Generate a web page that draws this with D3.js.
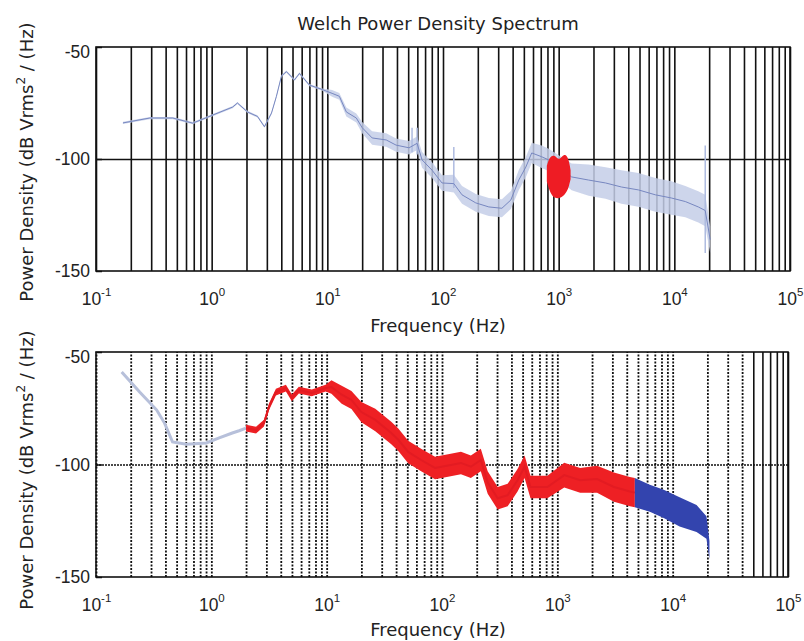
<!DOCTYPE html>
<html>
<head>
	<meta charset="utf-8">
	<title>Welch Power Density Spectrum</title>
	<script src="https://d3js.org/d3.v7.min.js"></script>
	<style>
	body {
		margin: 0;
		background: #fff;
	}
	.chartContainer svg {
		display: block;
		font-family: "DejaVu Sans", sans-serif;
	}
	.ticklabel, .axislabel, .title {
		fill: #222;
	}
	.domain {
		display: none;
	}
	</style>
</head>
<body>
<div class="chartContainer"></div>
<script>
// top panel: welch estimate (mean trace + spread band)
var topFreq = [0.171, 0.292, 0.461, 0.686, 1.02, 1.52, 1.67, 2.04, 2.49, 2.86, 3.29, 3.63, 4.01, 4.43, 5.2, 5.74, 7.0, 9.06,
	11.0, 12.7, 14.6, 17.8, 20.0, 24.4, 32.3, 39.3, 50.9, 59.7, 65.9, 80.4, 98, 124, 146, 192, 249, 323, 386, 452, 520, 585,
	713, 820, 1294, 1815, 2543, 3491, 4898, 6861, 9418, 12450, 16110, 18500, 20420];
var topDb = [-83.9, -81.7, -81.7, -84, -80.4, -76.8, -75, -79, -81, -85.6, -79.5, -72, -63, -61, -64.7, -61.8, -67, -69,
	-70.7, -72, -79, -81.7, -86, -90.6, -91.5, -93.8, -95, -93, -100.4, -105, -110.7, -111, -116, -119.6, -121.4, -122, -118.3, -109.4, -103.6, -97.3,
	-99, -100.4, -108, -109.4, -110.7, -112.5, -113.8, -116, -117.4, -119, -121.4, -123, -136];
var topSpread = [0.5, 0.5, 0.5, 0.5, 0.5, 0.5, 0.5, 0.5, 0.5, 0.5, 0.5, 0.5, 0.5, 0.5, 0.5, 0.5, 0.5, 0.5,
	1.5, 1.5, 2, 2, 2.5, 3, 3, 3, 3, 3, 3.5, 3.5, 3.5, 4, 4, 4, 4, 4, 4, 4.5, 4.5, 4.5,
	5, 5, 6, 7, 7, 7.5, 7.5, 7.5, 7.5, 7, 7, 7, 6];

// isolated spikes in the top trace
var spikeFreq = [54, 59.7, 124, 18500];
var spikeHigh = [-86, -86, -94.6, -94];
var spikeLow = [-97, -98, -113, -142];

// red bins around 1 kHz (top panel)
var blobFreq = [790, 830, 880, 940, 1000, 1060, 1120, 1180, 1230, 1268];
var blobHigh = [-103, -99.5, -98.5, -98.5, -100.5, -99, -98, -98.5, -101, -105];
var blobLow = [-110, -114, -116.5, -117.5, -117.5, -117, -116, -114.5, -112, -109];

// bottom panel: gray below 2 Hz, red up to 4.7 kHz, blue above
var bottomFreq = [0.167, 0.239, 0.336, 0.393, 0.461, 0.608, 0.905, 1.17, 1.52, 1.74,
	2.0, 2.44, 2.86, 3.16, 3.63, 4.43, 4.99, 5.74, 7.43, 9.8,
	11.0, 13.5, 16.4, 20.0, 26.4, 36.3, 41.8, 50.9, 65.9, 87, 113, 146, 178, 217, 249, 304, 371, 452, 520, 585,
	820, 1148, 1578, 2213, 3097, 4256, 4700, 6339, 8360, 11480, 16110, 19630, 20840];
var bottomDb = [-58.9, -67.8, -75.8, -81.6, -90, -91, -90.4, -88.2, -86, -85,
	-83.8, -84.7, -81.6, -74.4, -67.8, -66, -70.4, -66.9, -68.2, -66,
	-65.6, -69, -71.3, -76.7, -80.2, -86, -89, -94.4, -98, -101.5, -100.4, -99.3, -101, -98, -108, -115, -113.6, -107, -101, -110,
	-110, -104.7, -107, -106.5, -110, -112, -112.5, -115, -117.5, -121, -124, -128, -138];
var bottomSpread = [0.6, 0.6, 0.6, 0.6, 0.6, 0.6, 0.6, 0.6, 0.6, 0.6,
	1.5, 1.5, 1.5, 1.5, 1.5, 1.5, 1.5, 1.5, 1.5, 1.5,
	3, 4, 4, 4.5, 5, 5, 5, 5, 5, 5, 5, 5, 5, 5, 5, 5, 5, 5, 5, 5,
	5, 5.5, 5.5, 6, 6.5, 6.5, 6.5, 6, 6.3, 6.5, 6, 5, 4];
var grayEnd = 2, blueStart = 4700;

var decades = [0.1, 1, 10, 100, 1000, 10000, 100000];
var yTicks = [-50, -100, -150];

var gridFreq = [];
decades.forEach(function(d) {
	if (d >= 1e5) { gridFreq.push(d); return; }
	for (var k = 1; k < 10; k++) gridFreq.push(d * k);
});

var zip = function(f, v, s) {
	return f.map(function(d, i) { return {f: d, v: v[i], s: s[i]}; });
};

var svg = d3.select(".chartContainer").append("svg")
	.attr("width", 804)
	.attr("height", 641);

var drawPanel = function(p) {
	var x = d3.scaleLog().domain([0.1, 1e5]).range([p.left, p.right]);
	var y = d3.scaleLinear().domain([-150, -50]).range([p.bottom, p.top]);
	var h = p.bottom - p.top;

	// vertical grid
	var grid = svg.append("g")
		.attr("transform", "translate(0," + p.bottom + ")")
		.call(d3.axisBottom(x).tickValues(gridFreq).tickSize(-h).tickFormat(""));
	grid.selectAll(".tick line")
		.attr("stroke", "#111")
		.attr("stroke-width", function(d) { return (p.dotted && d < 5e4) ? 1.8 : 1.6; })
		.attr("stroke-dasharray", function(d) {
			return (p.dotted && d < 5e4) ? "2,1.5" : null;
		});

	// horizontal grid at -100
	var hgrid = svg.append("g")
		.attr("transform", "translate(" + p.left + ",0)")
		.call(d3.axisLeft(y).tickValues([-100]).tickSize(-(p.right - p.left)).tickFormat(""));
	hgrid.selectAll(".tick line")
		.attr("stroke", "#111")
		.attr("stroke-width", 1.6)
		.attr("stroke-dasharray", p.dotted ? "2,1" : null);

	// x tick labels 10^n
	var xa = svg.append("g")
		.attr("transform", "translate(0," + p.bottom + ")")
		.call(d3.axisBottom(x).tickValues(decades).tickSize(0).tickFormat(""));
	xa.selectAll(".tick text")
		.attr("class", "ticklabel")
		.attr("y", p.labelY - p.bottom)
		.attr("dy", 0)
		.attr("font-size", 17.5)
		.each(function(d) {
			var t = d3.select(this);
			t.append("tspan").text("10");
			t.append("tspan")
				.attr("dy", -9)
				.attr("font-size", 11.5)
				.text(String(Math.round(Math.log10(d))));
		});

	// y ticks
	var ya = svg.append("g")
		.attr("transform", "translate(" + p.left + ",0)")
		.call(d3.axisLeft(y).tickValues(yTicks).tickSize(-6).tickPadding(6)
			.tickFormat(function(d) { return String(d); }));
	ya.selectAll(".tick line").attr("stroke", "#111").attr("stroke-width", 1.5);
	ya.selectAll(".tick text")
		.attr("class", "ticklabel")
		.attr("font-size", 17.5)
		.attr("dy", function(d) { return d === -50 ? "0.62em" : "0.34em"; });

	// frame
	svg.append("rect")
		.attr("x", p.left)
		.attr("y", p.top)
		.attr("width", p.right - p.left)
		.attr("height", h)
		.attr("fill", "none")
		.attr("stroke", "#111")
		.attr("stroke-width", 1.6);

	svg.append("text")
		.attr("class", "axislabel")
		.attr("x", 438)
		.attr("y", p.xlabelY)
		.attr("text-anchor", "middle")
		.attr("font-size", 18)
		.text("Frequency (Hz)");

	var yl = svg.append("text")
		.attr("class", "axislabel")
		.attr("transform", "translate(33," + p.ylabelY + ") rotate(-90)")
		.attr("text-anchor", "middle")
		.attr("font-size", 18);
	yl.append("tspan").text("Power Density (dB Vrms");
	yl.append("tspan").attr("dy", -8).attr("font-size", 12).text("2");
	yl.append("tspan").attr("dy", 8).text(" / (Hz)");

	var band = d3.area()
		.x(function(d) { return x(d.f); })
		.y0(function(d) { return y(d.v - d.s); })
		.y1(function(d) { return y(d.v + d.s); });
	var line = d3.line()
		.x(function(d) { return x(d.f); })
		.y(function(d) { return y(d.v); });

	return {x: x, y: y, band: band, line: line, g: svg.append("g")};
};

var topP = drawPanel({left: 96, right: 790, top: 47, bottom: 271, labelY: 305, xlabelY: 332, ylabelY: 162, dotted: false});
var botP = drawPanel({left: 96, right: 788, top: 352, bottom: 577, labelY: 611, xlabelY: 636, ylabelY: 470, dotted: true});

svg.append("text")
	.attr("class", "title")
	.attr("x", 438)
	.attr("y", 30)
	.attr("text-anchor", "middle")
	.attr("font-size", 18)
	.text("Welch Power Density Spectrum");

// top panel data
var topData = zip(topFreq, topDb, topSpread);
topP.g.append("path")
	.datum(topData)
	.attr("d", topP.band)
	.attr("fill", "#c4cee8")
	.attr("opacity", 0.85);
topP.g.selectAll(".spike")
	.data(spikeFreq)
	.enter().append("line")
	.attr("class", "spike")
	.attr("x1", function(d) { return topP.x(d); })
	.attr("x2", function(d) { return topP.x(d); })
	.attr("y1", function(d, i) { return topP.y(spikeHigh[i]); })
	.attr("y2", function(d, i) { return topP.y(spikeLow[i]); })
	.attr("stroke", "#aebbe0")
	.attr("stroke-width", 1.5);
topP.g.append("path")
	.datum(topData)
	.attr("d", topP.line)
	.attr("fill", "none")
	.attr("stroke", "#7787c0")
	.attr("stroke-width", 1);
topP.g.append("path")
	.datum(blobFreq.map(function(d, i) { return {f: d, hi: blobHigh[i], lo: blobLow[i]}; }))
	.attr("d", d3.area()
		.curve(d3.curveBasis)
		.x(function(d) { return topP.x(d.f); })
		.y0(function(d) { return topP.y(d.lo); })
		.y1(function(d) { return topP.y(d.hi); }))
	.attr("fill", "#ee1c24");

// bottom panel data
var botData = zip(bottomFreq, bottomDb, bottomSpread);
var grayPart = botData.filter(function(d) { return d.f <= grayEnd; });
var redPart = botData.filter(function(d) { return d.f >= grayEnd && d.f <= blueStart; });
var bluePart = botData.filter(function(d) { return d.f >= blueStart; });

botP.g.append("path")
	.datum(grayPart.concat([redPart[0]]))
	.attr("d", botP.line)
	.attr("fill", "none")
	.attr("stroke", "#b7c0da")
	.attr("stroke-width", 3);
botP.g.append("path")
	.datum(redPart)
	.attr("d", botP.band)
	.attr("fill", "#ee2024");
botP.g.append("path")
	.datum(redPart)
	.attr("d", botP.line)
	.attr("fill", "none")
	.attr("stroke", "#e31b22")
	.attr("stroke-width", 2);
botP.g.append("path")
	.datum(bluePart)
	.attr("d", botP.band)
	.attr("fill", "#3344ae");
</script>
</body>
</html>
